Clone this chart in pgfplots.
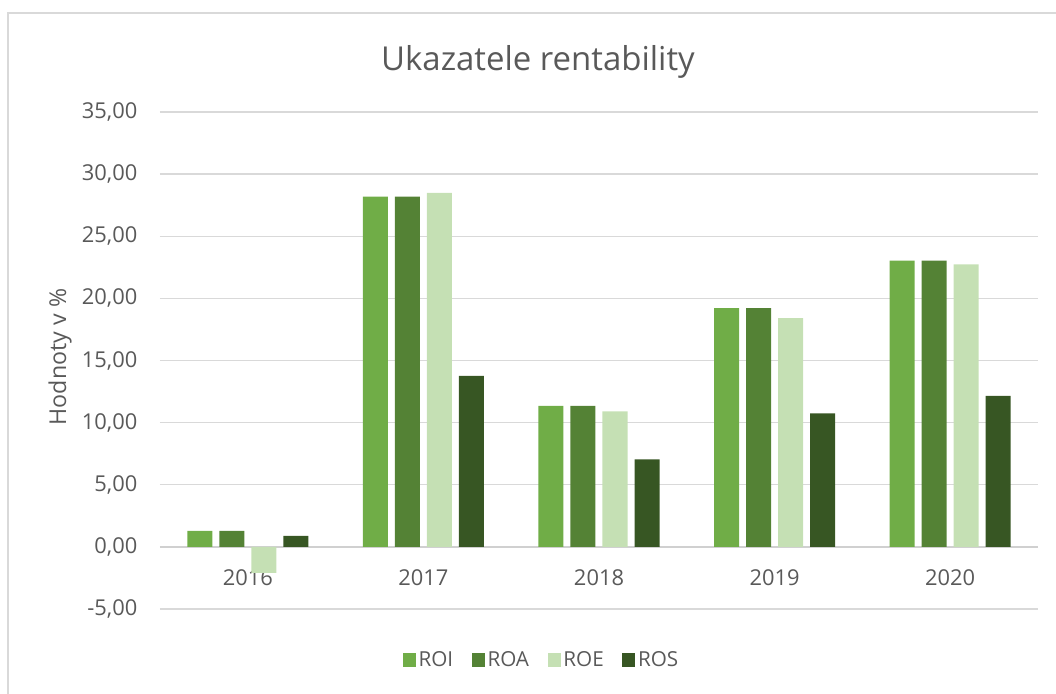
\documentclass[border=0pt]{standalone}
\usepackage{fontspec}
\setmainfont{Open Sans}
\usepackage{pgfplots}
\pgfplotsset{compat=1.18}
\definecolor{roi}{HTML}{70AD47}
\definecolor{roa}{HTML}{548235}
\definecolor{roe}{HTML}{C5E0B4}
\definecolor{ros}{HTML}{375623}
\definecolor{gridc}{HTML}{D9D9D9}
\definecolor{zeroc}{HTML}{D0D0D0}
\definecolor{txtc}{HTML}{595959}
\begin{document}
\begin{tikzpicture}
\path[use as bounding box] (-120pt,-63pt) rectangle (672pt,456.75pt);
\draw[color=gridc, line width=1.3pt] (-114pt,-70pt) -- (-114pt,447pt) -- (680pt,447pt);
\begin{axis}[
  at={(0,0)}, anchor=south west,
  scale only axis, width=658.5pt, height=372.75pt,
  ymin=-5, ymax=35, ytick={-5,0,5,10,15,20,25,30,35},
  xmin=-0.5, xmax=4.5, xtick={0,1,2,3,4},
  xticklabels={2016,2017,2018,2019,2020},
  axis line style={draw=none},
  major tick length=0pt,
  ymajorgrids, grid style={gridc, line width=1pt},
  extra y ticks={0}, extra y tick labels={},
  extra y tick style={grid style={zeroc, line width=1.2pt}},
  ybar=5.25pt, bar width=18.75pt,
  tick label style={font=\fontsize{16.4}{19}\selectfont, text=txtc},
  yticklabel style={/pgf/number format/fixed, /pgf/number format/fixed zerofill, /pgf/number format/precision=2, /pgf/number format/use comma, /pgf/number format/assume math mode=true, xshift=-13.5pt},
  xticklabel style={anchor=center, yshift=23.25pt},
  title={Ukazatele rentability},
  title style={at={(axis description cs:0.4305,1.0845)}, anchor=center, font=\fontsize{24.7}{29}\selectfont, text=txtc},
  ylabel={Hodnoty v \%},
  ylabel style={at={(axis description cs:-0.1139,0.507)}, anchor=center, font=\fontsize{17.4}{20}\selectfont, text=txtc},
  legend style={at={(axis description cs:0.435,-0.1026)}, anchor=center, draw=none, fill=none,
    legend columns=4, font=\fontsize{15.5}{19}\selectfont, text=txtc,
    /tikz/every even column/.append style={column sep=12pt}},
  legend image code/.code={\fill[#1] (0pt,-4.9pt) rectangle (9.75pt,4.9pt);},
]
\addplot[fill=roi, draw=none] coordinates {(0,1.29) (1,28.18) (2,11.34) (3,19.22) (4,23.03)};
\addplot[fill=roa, draw=none] coordinates {(0,1.29) (1,28.18) (2,11.34) (3,19.22) (4,23.03)};
\addplot[fill=roe, draw=none] coordinates {(0,-2.10) (1,28.50) (2,10.90) (3,18.42) (4,22.74)};
\addplot[fill=ros, draw=none] coordinates {(0,0.88) (1,13.76) (2,7.05) (3,10.75) (4,12.15)};
\legend{ROI,ROA,ROE,ROS}
\end{axis}
\end{tikzpicture}
\end{document}
